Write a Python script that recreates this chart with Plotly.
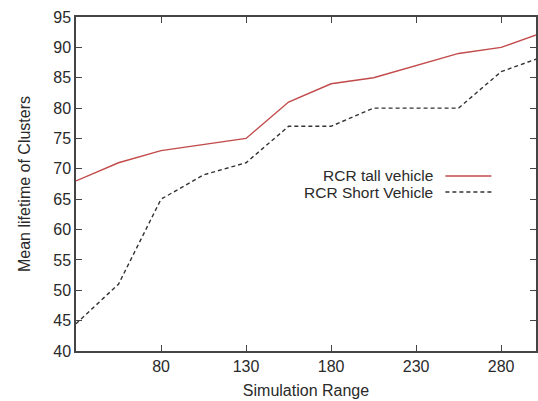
import plotly.graph_objects as go

sim_range = [30, 55, 80, 105, 130, 155, 180, 205, 230, 255, 280, 305]
tall_vehicle = [68, 71, 73, 74, 75, 81, 84, 85, 87, 89, 90, 92.5]
short_vehicle = [44.5, 51, 65, 69, 71, 77, 77, 80, 80, 80, 86, 88.5]
x_ticks = [80, 130, 180, 230, 280]
y_ticks = [40, 45, 50, 55, 60, 65, 70, 75, 80, 85, 90, 95]
legend_names = ["RCR tall vehicle", "RCR Short Vehicle"]

red = "#c24a4a"
dark = "#2a2a2a"
font = "Liberation Sans, Arial, sans-serif"

fig = go.Figure()
fig.add_trace(go.Scatter(x=sim_range, y=tall_vehicle, mode="lines",
                         line=dict(color=red, width=1.4), name=legend_names[0]))
fig.add_trace(go.Scatter(x=sim_range, y=short_vehicle, mode="lines",
                         line=dict(color="#333333", width=1.4, dash="4px,3px"), name=legend_names[1]))

axis_common = dict(showline=True, linecolor="#444444", linewidth=1.5, mirror="ticks",
                   ticks="inside", ticklen=6, tickwidth=1.3, tickcolor="#444444",
                   showgrid=False, zeroline=False,
                   tickfont=dict(family=font, size=16, color=dark))

fig.update_layout(
    width=538, height=401,
    margin=dict(l=76, r=0, t=17, b=50),
    paper_bgcolor="white", plot_bgcolor="white",
    showlegend=False,
    xaxis=dict(range=[30, 300.5], tickvals=x_ticks,
               title=dict(text="Simulation Range", standoff=11,
                          font=dict(family=font, size=16, color=dark)),
               **axis_common),
    yaxis=dict(range=[40, 95], tickvals=y_ticks,
               title=dict(text="Mean lifetime of Clusters", standoff=19,
                          font=dict(family=font, size=16, color=dark)),
               **axis_common),
)

# legend (gnuplot style: text then sample)
ys = [0.524, 0.476]
colors = [red, "#333333"]
dashes = ["solid", "4px,3px"]
for name, yy, c, d in zip(legend_names, ys, colors, dashes):
    fig.add_annotation(x=0.781, y=yy, xref="paper", yref="paper", text=name,
                       showarrow=False, xanchor="right", yanchor="middle",
                       font=dict(family=font, size=15.5, color=dark))
    fig.add_shape(type="line", xref="paper", yref="paper", x0=0.803, x1=0.903,
                  y0=yy, y1=yy, line=dict(color=c, width=1.3, dash=d))

fig.write_html("out.html", config={"displayModeBar": False},
               post_script="document.body.style.margin='0';")
